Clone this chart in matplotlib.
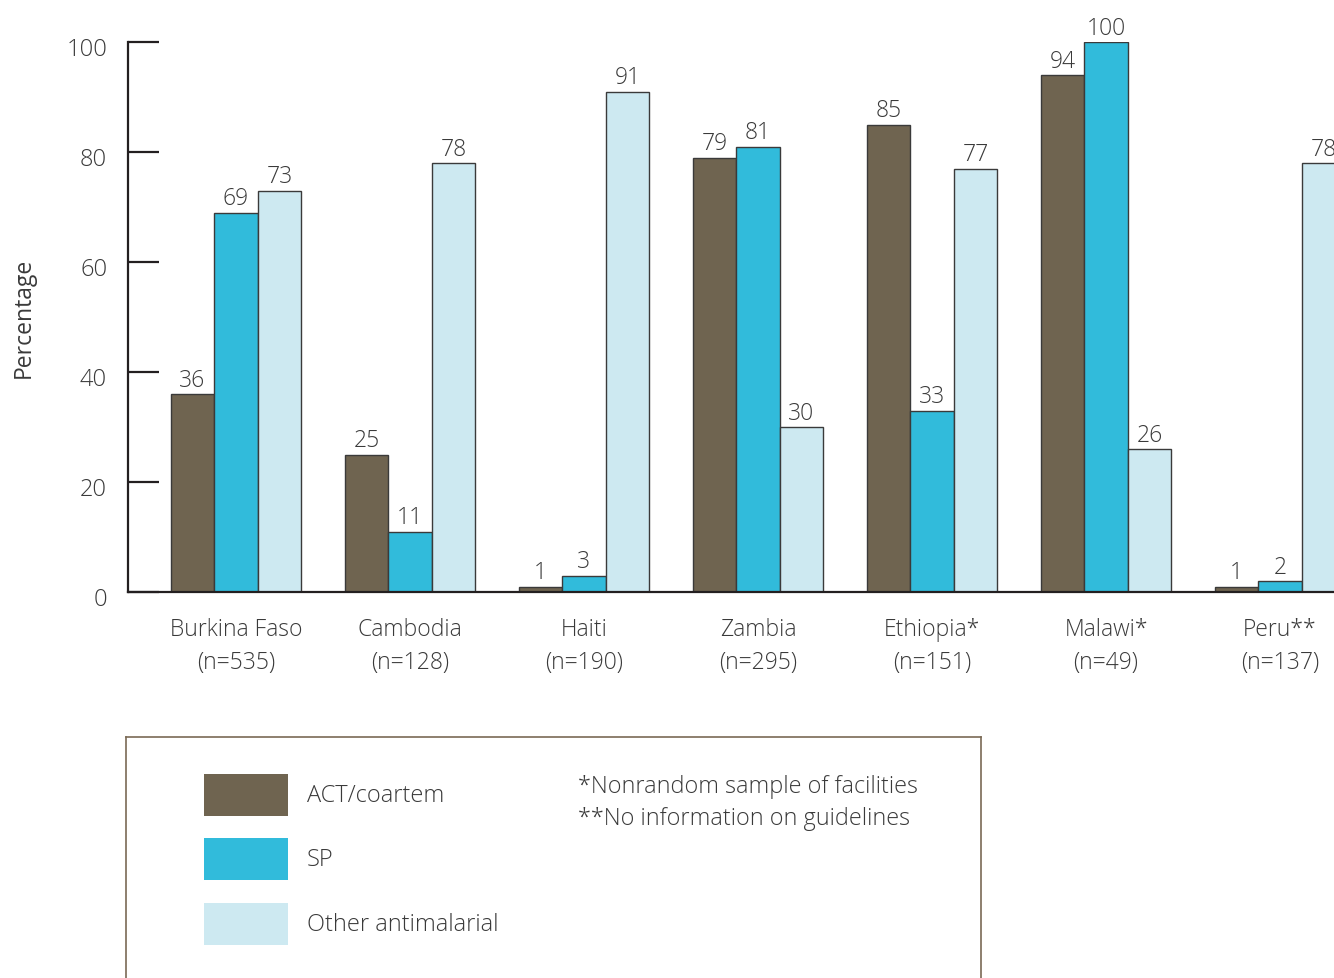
import numpy as np
import matplotlib
matplotlib.use('Agg')
import matplotlib.pyplot as plt
import matplotlib.transforms as mtransforms
from matplotlib.patches import Rectangle

# 数据
countries = ['Burkina Faso\n(n=535)', 'Cambodia\n(n=128)', 'Haiti\n(n=190)',
             'Zambia\n(n=295)', 'Ethiopia*\n(n=151)', 'Malawi*\n(n=49)',
             'Peru**\n(n=137)']
act = [36, 25, 1, 79, 85, 94, 1]
sp = [69, 11, 3, 81, 33, 100, 2]
other = [73, 78, 91, 30, 77, 26, 78]
series_names = ['ACT/coartem', 'SP', 'Other antimalarial']
notes = ['*Nonrandom sample of facilities', '**No information on guidelines']

# 样式
colors = ['#6f6450', '#31bbdb', '#cde9f1']
dark = '#231f20'
txt = '#3a3a3a'
plt.rcParams['font.family'] = ['Open Sans', 'DejaVu Sans']
plt.rcParams['font.weight'] = 'light'

W, H = 1334, 979
fig = plt.figure(figsize=(W / 100, H / 100), dpi=100)
ax = fig.add_axes([128 / W, (H - 593) / H, (W - 128) / W, (593 - 43) / H])

x = np.arange(len(countries))
bw = 0.25
for k, vals in enumerate([act, sp, other]):
    pos = x + (k - 1) * bw
    ax.bar(pos, vals, width=bw, color=colors[k], edgecolor='#3a3a3a',
           linewidth=1.0, zorder=2)
    for p, v in zip(pos, vals):
        ax.text(p, v + 0.4, str(v), ha='center', va='bottom', fontsize=16.5,
                color=txt, clip_on=False)

ax.set_xlim(-0.62, 6.31)
ax.set_ylim(0, 100)
ax.set_yticks([0, 20, 40, 60, 80, 100])
ax.tick_params(axis='y', direction='in', length=22, width=1.6, color=dark,
               pad=15, labelsize=17, labelcolor=txt)
# 刻度文字略微下移
shift = mtransforms.ScaledTranslation(0, -3 / 72, fig.dpi_scale_trans)
for lab in ax.get_yticklabels():
    lab.set_transform(lab.get_transform() + shift)
ax.set_xticks(x)
ax.set_xticklabels(countries, fontsize=16.5, color=txt, linespacing=1.5)
ax.tick_params(axis='x', length=0, pad=18)
for s in ['top', 'right']:
    ax.spines[s].set_visible(False)
ax.spines['left'].set_linewidth(1.6)
ax.spines['left'].set_color(dark)
ax.spines['bottom'].set_linewidth(1.6)
ax.spines['bottom'].set_color(dark)
ax.set_ylabel('Percentage', fontsize=16.5, color=txt, labelpad=22)

# 图例框
lg = fig.add_axes([126 / W, -10 / H, (981 - 126) / W, (979 - 738 + 10) / H])
lg.set_xlim(0, 855)
lg.set_ylim(251, 0)
lg.set_xticks([])
lg.set_yticks([])
for s in ['left', 'top', 'right']:
    lg.spines[s].set_color('#7a6a55')
    lg.spines[s].set_linewidth(1.2)
lg.spines['bottom'].set_visible(False)
sw_y = [37, 101, 166]
for k, name in enumerate(series_names):
    lg.add_patch(Rectangle((78, sw_y[k]), 84, 42, facecolor=colors[k],
                           edgecolor='none'))
    lg.text(181, sw_y[k] + 21, name, va='center', ha='left', fontsize=17,
            color=txt)
for i, n in enumerate(notes):
    lg.text(452, 49 + 32 * i, n, va='center', ha='left', fontsize=16.8,
            color=txt)

fig.savefig('out.png', dpi=100)
